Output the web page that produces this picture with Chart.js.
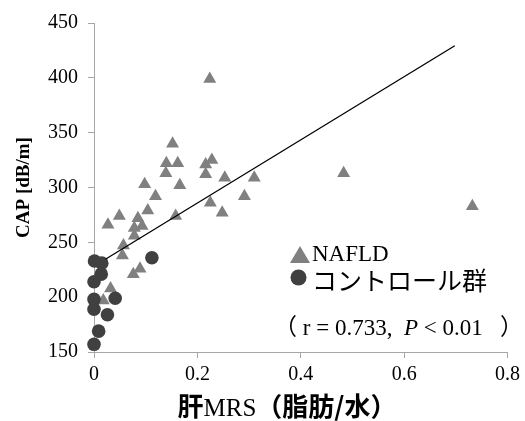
<!DOCTYPE html>
<html>
<head>
<meta charset="utf-8">
<script src="https://cdn.jsdelivr.net/npm/chart.js@4/dist/chart.umd.min.js"></script>
<style>
  body { margin: 0; background: #fff; }
</style>
</head>
<body>
<canvas id="capChart" width="525" height="421"></canvas>
<script>
// NAFLD patients: liver MRS fat fraction vs CAP
const nafldX = [0.224, 0.152, 0.140, 0.162, 0.139, 0.166, 0.098, 0.119, 0.104, 0.158,
                0.049, 0.027, 0.085, 0.093, 0.078, 0.078, 0.057, 0.055, 0.076, 0.089,
                0.032, 0.018, 0.216, 0.228, 0.216, 0.253, 0.310, 0.291, 0.225, 0.248,
                0.483, 0.732];
const nafldY = [399, 340, 322, 322, 313, 302, 303, 292, 279, 274,
                274, 266, 272, 265, 263, 256, 247, 238, 221, 226,
                208, 197, 321, 325, 312, 309, 309, 292, 286, 277,
                313, 283];

// control group
const ctrlX = [0.001, 0.015, 0.014, 0.000, 0.112, 0.041, 0.000, 0.000, 0.026, 0.009, 0.000];
const ctrlY = [233, 231, 221, 214, 236, 199, 198, 189, 184, 169, 157];

// regression line end points
const trendX = [0.022, 0.698];
const trendY = [234.6, 429.3];

const xTicks = [0, 0.2, 0.4, 0.6, 0.8];
const yTicks = [150, 200, 250, 300, 350, 400, 450];

const seriesNames = ['NAFLD', 'コントロール群'];
const xTitleParts = ['肝', 'MRS', '（脂肪/水）'];
const statParts = ['（ r = 0.733,  ', 'P', ' < 0.01   ）'];

const serif = "'Liberation Serif', 'Times New Roman', 'Noto Sans CJK JP', serif";
const cjk = "'Noto Sans CJK JP', 'Noto Sans', sans-serif";
const axisGray = '#a6a6a6';

const toPoints = (xs, ys) => xs.map((x, i) => ({ x: x, y: ys[i] }));

// draws text pieces one after another, each with its own font
function drawRun(ctx, parts, fonts, x, y) {
    parts.forEach((t, i) => {
        ctx.font = fonts[i];
        ctx.fillText(t, x, y);
        x += ctx.measureText(t).width;
    });
}

function runWidth(ctx, parts, fonts) {
    let w = 0;
    parts.forEach((t, i) => {
        ctx.font = fonts[i];
        w += ctx.measureText(t).width;
    });
    return w;
}

// legend, r/P note and x axis title
const notes = {
    id: 'notes',
    afterDraw(chart) {
        const ctx = chart.ctx;
        const a = chart.chartArea;
        const sets = chart.data.datasets;
        ctx.save();

        // legend markers
        const lx = a.left + 206;
        ctx.fillStyle = sets[0].backgroundColor;
        ctx.beginPath();
        ctx.moveTo(lx, a.top + 223);
        ctx.lineTo(lx + 10, a.top + 240);
        ctx.lineTo(lx - 10, a.top + 240);
        ctx.closePath();
        ctx.fill();

        ctx.fillStyle = sets[1].backgroundColor;
        ctx.beginPath();
        ctx.arc(lx - 1.5, a.top + 254.5, 8, 0, Math.PI * 2);
        ctx.fill();

        ctx.fillStyle = '#000';
        ctx.textAlign = 'left';
        ctx.textBaseline = 'alphabetic';
        ctx.font = '23px ' + serif;
        ctx.fillText(sets[0].label, a.left + 218, a.top + 238);
        ctx.font = '25px ' + cjk;
        ctx.textBaseline = 'middle';
        ctx.fillText(sets[1].label, a.left + 218, a.top + 257);

        // correlation note
        ctx.textBaseline = 'alphabetic';
        const sf = '23px ' + serif;
        drawRun(ctx, statParts, [sf, 'italic ' + sf, sf], a.left + 180, a.top + 312);

        // x axis title
        const tf = ['bold 26px ' + cjk, '25px ' + serif, 'bold 26px ' + cjk];
        const tw = runWidth(ctx, xTitleParts, tf);
        drawRun(ctx, xTitleParts, tf, a.left + 193 - tw / 2, 416);
        ctx.restore();
    }
};

new Chart(document.getElementById('capChart').getContext('2d'), {
    type: 'scatter',
    data: {
        datasets: [
            {
                label: seriesNames[0],
                data: toPoints(nafldX, nafldY),
                pointStyle: 'triangle',
                pointRadius: 7.5,
                pointBorderWidth: 0,
                backgroundColor: '#808080',
                borderColor: '#808080',
                clip: false,
                order: 3
            },
            {
                label: seriesNames[1],
                data: toPoints(ctrlX, ctrlY),
                pointStyle: 'circle',
                pointRadius: 6.8,
                pointBorderWidth: 0,
                backgroundColor: '#404040',
                borderColor: '#404040',
                clip: false,
                order: 2
            },
            {
                label: 'trend',
                data: toPoints(trendX, trendY),
                showLine: true,
                pointRadius: 0,
                borderColor: '#000',
                borderWidth: 1.3,
                order: 1
            }
        ]
    },
    options: {
        responsive: false,
        animation: false,
        layout: { padding: { left: 0, top: 23, right: 15, bottom: 0 } },
        plugins: {
            legend: { display: false },
            tooltip: { enabled: false }
        },
        scales: {
            x: {
                type: 'linear',
                min: 0,
                max: 0.8,
                afterBuildTicks: s => { s.ticks = xTicks.map(v => ({ value: v })); },
                afterFit: s => { s.height = 69; },
                grid: { drawOnChartArea: false, tickLength: 6, color: axisGray },
                border: { color: axisGray },
                ticks: { color: '#000', padding: 5, font: { family: serif, size: 20 } }
            },
            y: {
                min: 150,
                max: 450,
                afterBuildTicks: s => { s.ticks = yTicks.map(v => ({ value: v })); },
                afterFit: s => { s.width = 94; },
                grid: { drawOnChartArea: false, tickLength: 6, color: axisGray },
                border: { color: axisGray },
                ticks: { color: '#000', padding: 10, font: { family: serif, size: 20 } },
                title: {
                    display: true,
                    text: 'CAP [dB/m]',
                    color: '#000',
                    padding: { top: 13, bottom: 0 },
                    font: { family: serif, size: 19, weight: 'bold' }
                }
            }
        }
    },
    plugins: [notes]
});
</script>
</body>
</html>
